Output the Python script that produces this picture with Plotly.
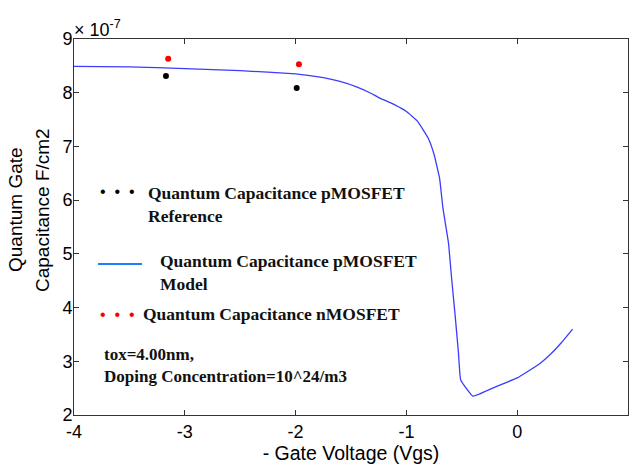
import plotly.graph_objects as go

# Model curve (units of 1e-7 F/cm2)
model_vgs = [-4.0, -3.5, -3.0, -2.5, -2.0, -1.75, -1.6, -1.45, -1.33, -1.24, -1.1, -1.0, -0.9,
             -0.8, -0.75, -0.7, -0.67, -0.62, -0.59, -0.56, -0.53, -0.51, -0.4, -0.2,
             0.0, 0.2, 0.3, 0.4, 0.5]
model_cap = [8.49, 8.48, 8.45, 8.41, 8.35, 8.28, 8.21, 8.11, 8.00, 7.90, 7.77, 7.65, 7.47,
             7.14, 6.85, 6.40, 5.85, 5.20, 4.50, 3.85, 3.15, 2.65, 2.35, 2.52,
             2.69, 2.95, 3.13, 3.35, 3.60]

# pMOSFET reference points
pref_vgs = [-3.17, -1.99]
pref_cap = [8.31, 8.09]

# nMOSFET points
n_vgs = [-3.15, -1.97]
n_cap = [8.63, 8.53]

x_ticks = [-4, -3, -2, -1, 0, 1]
x_ticktext = ["-4", "-3", "-2", "-1", "0", "1"]
y_ticks = [2, 3, 4, 5, 6, 7, 8, 9]
y_ticktext = ["2", "3", "4", "5", "6", "7", "8", "9"]

SANS = "Liberation Sans, Arial, sans-serif"
SERIF = "Liberation Serif, Times New Roman, serif"

fig = go.Figure()
fig.add_trace(go.Scatter(x=model_vgs, y=model_cap, mode="lines", line_shape="spline",
                         line=dict(color="#3c3cff", width=1.3, smoothing=0.3), showlegend=False))
fig.add_trace(go.Scatter(x=pref_vgs, y=pref_cap, mode="markers",
                         marker=dict(color="black", size=6), showlegend=False))
fig.add_trace(go.Scatter(x=n_vgs, y=n_cap, mode="markers",
                         marker=dict(color="#ff0000", size=6), showlegend=False))

W, H = 629, 464
L, R, T, B = 74, 1, 39, 49
PW, PH = W - L - R, H - T - B


def px(x):
    return (x - L) / PW


def py(y):
    return (H - B - y) / PH


ann = []
# legend-like annotations
ann.append(dict(x=px(117), y=py(191.5), text="\u2022  \u2022  \u2022", font=dict(family=SANS, size=16, color="black"),
                xanchor="center", yanchor="middle"))
ann.append(dict(x=px(146), y=py(204.5), text="<b>Quantum Capacitance pMOSFET<br>Reference</b>",
                font=dict(family=SERIF, size=17.5, color="#111"), xanchor="left", yanchor="middle", align="left"))
ann.append(dict(x=px(158), y=py(272), text="<b>Quantum Capacitance pMOSFET<br>Model</b>",
                font=dict(family=SERIF, size=17.5, color="#111"), xanchor="left", yanchor="middle", align="left"))
ann.append(dict(x=px(117), y=py(314), text="\u2022  \u2022  \u2022", font=dict(family=SANS, size=16, color="#ff0000"),
                xanchor="center", yanchor="middle"))
ann.append(dict(x=px(141), y=py(314), text="<b>Quantum Capacitance nMOSFET</b>",
                font=dict(family=SERIF, size=17.5, color="#111"), xanchor="left", yanchor="middle", align="left"))
ann.append(dict(x=px(102), y=py(365), text="<b>tox=4.00nm,<br>Doping Concentration=10^24/m3</b>",
                font=dict(family=SERIF, size=17, color="#111"), xanchor="left", yanchor="middle", align="left"))
# y-axis title (two lines)
ann.append(dict(x=px(15), y=py(210), text="Quantum Gate", textangle=-90,
                font=dict(family=SANS, size=19, color="black"), xanchor="center", yanchor="middle"))
ann.append(dict(x=px(42), y=py(210), text="Capacitance F/cm2", textangle=-90,
                font=dict(family=SANS, size=19, color="black"), xanchor="center", yanchor="middle"))
# exponent
ann.append(dict(x=px(72), y=py(42), text="\u00d7 10<sup>-7</sup>",
                font=dict(family=SANS, size=18, color="black"), xanchor="left", yanchor="bottom"))
for a in ann:
    a.update(xref="paper", yref="paper", showarrow=False)

shapes = [dict(type="line", xref="paper", yref="paper", x0=px(98), x1=px(142), y0=py(264), y1=py(264),
               line=dict(color="#1a80ff", width=2))]

axis_common = dict(showline=True, linecolor="#333", linewidth=1, mirror="ticks", ticks="inside",
                   ticklen=5, tickcolor="#333", showgrid=False, zeroline=False,
                   tickfont=dict(family=SANS, size=18, color="black"))

fig.update_layout(
    width=W, height=H, margin=dict(l=L, r=R, t=T, b=B),
    paper_bgcolor="white", plot_bgcolor="white",
    xaxis=dict(range=[-4, 1], tickvals=x_ticks, ticktext=x_ticktext,
               title=dict(text="- Gate Voltage (Vgs)", font=dict(family=SANS, size=19.5, color="black"), standoff=4),
               **axis_common),
    yaxis=dict(range=[2, 9], tickvals=y_ticks, ticktext=y_ticktext, ticklabelstandoff=-3, **axis_common),
    annotations=ann, shapes=shapes, showlegend=False,
)

fig.write_html("out.html")
